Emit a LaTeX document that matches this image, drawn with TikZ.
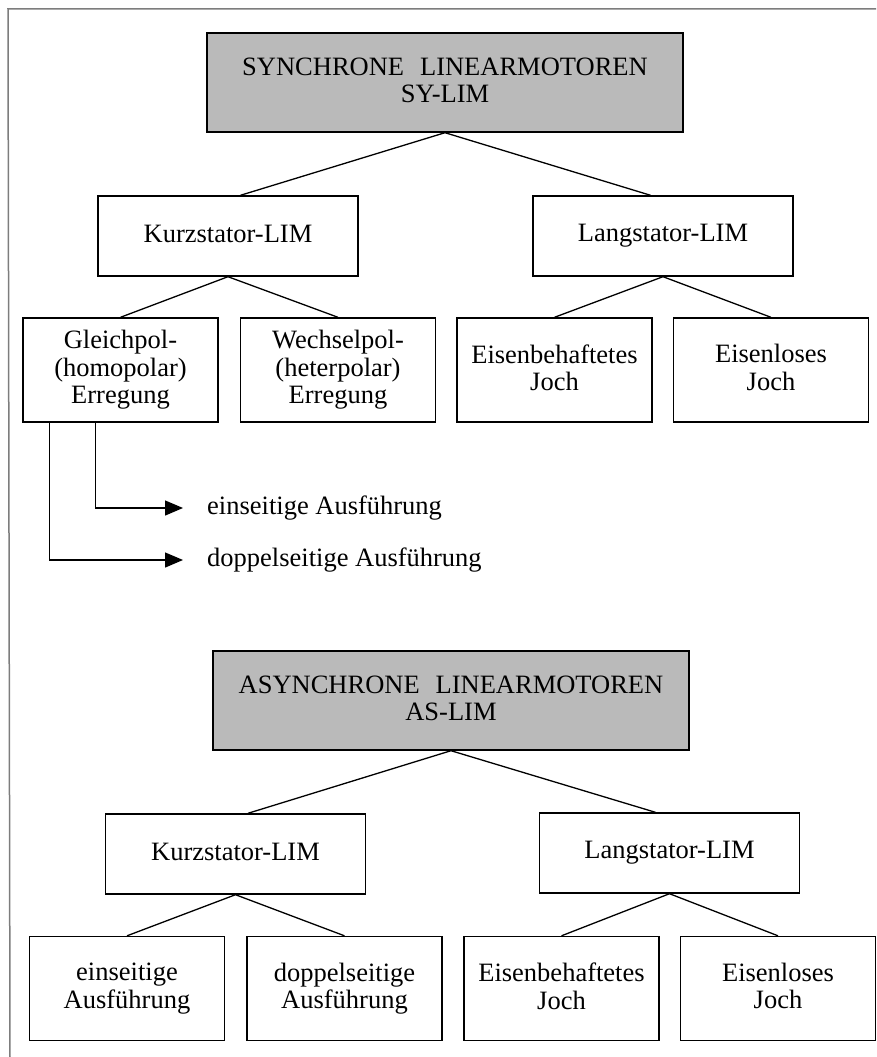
\documentclass[tikz,border=0pt]{standalone}
\usepackage{fontspec}
\setmainfont{Liberation Serif}
\usetikzlibrary{arrows.meta,calc}
\definecolor{boxgray}{RGB}{186,186,186}
\definecolor{framegray}{RGB}{125,125,125}
\newcommand\boxstrut{\rule[-5pt]{0pt}{19pt}}

\begin{document}
\begin{tikzpicture}[x=1pt, y=-1pt]
    \tikzstyle{box} = [rectangle, draw, line width=1.4pt, align=center, inner sep=0pt, font=\fontsize{26.5}{27.5}\selectfont, execute at begin node=\boxstrut, execute at end node=\boxstrut]
    \tikzstyle{headbox} = [box, fill=boxgray, minimum width=476pt, minimum height=99pt]
    \tikzstyle{midbox} = [box, minimum width=260pt, minimum height=80pt]
    \tikzstyle{leafbox} = [box, minimum width=195pt, minimum height=104pt]
    \tikzstyle{plaintext} = [inner sep=0pt, anchor=west, font=\fontsize{26.5}{27.5}\selectfont]
    \tikzstyle{link} = [line width=1.3pt]
    \tikzstyle{pointer} = [line width=1.3pt, -{Triangle[length=18pt, width=15pt]}]

    \useasboundingbox (0,0) rectangle (876,1057);
    \draw[framegray, line width=1.5pt] (10,1057) -- (8,9) -- (876,9);

    % synchronous motors
    \node [headbox] (sy) at (445,82.5) {SYNCHRONE\hspace{0.6em}LINEARMOTOREN\\SY-LIM};
    \node [midbox] (kurzA) at (228,236) {Kurzstator-LIM};
    \node [midbox] (langA) at (663,236) {Langstator-LIM};
    \node [leafbox] (gleich) at (120.5,370) {Gleichpol-\\(homopolar)\\Erregung};
    \node [leafbox] (wechsel) at (338,370) {Wechselpol-\\(heterpolar)\\Erregung};
    \node [leafbox] (eisenA) at (554.5,370) {Eisenbehaftetes\\Joch};
    \node [leafbox] (eisenlosA) at (771,370) {Eisenloses\\Joch};
    \node [plaintext] (eintext) at (207,508) {einseitige Ausführung};
    \node [plaintext] (dopptext) at (207,560) {doppelseitige Ausführung};

    \draw[link] (sy.south) -- (kurzA.73);
    \draw[link] (sy.south) -- (langA.107);
    \draw[link] (kurzA.south) -- (gleich.north);
    \draw[link] (kurzA.south) -- (wechsel.north);
    \draw[link] (langA.south) -- (eisenA.north);
    \draw[link] (langA.south) -- (eisenlosA.north);
    \draw[pointer] ($(gleich.south west)+(73,0)$) |- ($(eintext.west)+(-24,0)$);
    \draw[pointer] ($(gleich.south west)+(27,0)$) |- ($(dopptext.west)+(-24,0)$);

    % asynchronous motors
    \node [headbox] (as) at (451,700.5) {ASYNCHRONE\hspace{0.6em}LINEARMOTOREN\\AS-LIM};
    \node [midbox] (kurzB) at (235.5,854) {Kurzstator-LIM};
    \node [midbox] (langB) at (669.5,853) {Langstator-LIM};
    \node [leafbox] (einB) at (127,988.5) {einseitige\\Ausführung};
    \node [leafbox] (doppB) at (344.5,988.5) {doppelseitige\\Ausführung};
    \node [leafbox] (eisenB) at (561.5,988.5) {Eisenbehaftetes\\Joch};
    \node [leafbox] (eisenlosB) at (778,988.5) {Eisenloses\\Joch};

    \draw[link] (as.south) -- (kurzB.73);
    \draw[link] (as.south) -- (langB.109);
    \draw[link] (kurzB.south) -- (einB.north);
    \draw[link] (kurzB.south) -- (doppB.north);
    \draw[link] (langB.south) -- (eisenB.north);
    \draw[link] (langB.south) -- (eisenlosB.north);
\end{tikzpicture}
\end{document}
